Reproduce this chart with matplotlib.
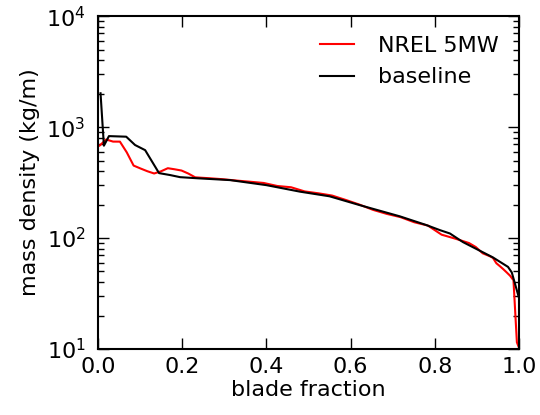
import matplotlib
matplotlib.use("Agg")
import matplotlib.pyplot as plt

# NREL 5MW reference blade mass density
nrel_frac = [0.0, 0.00325, 0.01951, 0.03577, 0.05203, 0.06829, 0.08455, 0.10081,
             0.11707, 0.13335, 0.14959, 0.16585, 0.18211, 0.19837, 0.21465, 0.23089,
             0.24715, 0.26341, 0.29595, 0.32846, 0.36098, 0.39350, 0.42602, 0.45855,
             0.49106, 0.52358, 0.55610, 0.58862, 0.62115, 0.65366, 0.68618, 0.71870,
             0.75122, 0.78374, 0.81626, 0.84878, 0.88130, 0.89756, 0.91382, 0.93008,
             0.93821, 0.94636, 0.95447, 0.96260, 0.97073, 0.97886, 0.98699, 0.99512,
             1.0]
nrel_mass = [678.9, 678.9, 773.4, 740.6, 740.0, 592.5, 450.3, 424.1,
             400.6, 382.1, 399.7, 426.3, 416.8, 406.2, 381.4, 352.8,
             349.5, 346.5, 339.3, 330.0, 322.0, 313.8, 294.7, 287.1,
             263.3, 253.2, 241.7, 220.6, 200.3, 179.4, 165.1, 154.4,
             138.9, 129.6, 107.3, 98.8, 90.2, 83.0, 72.9, 68.8,
             66.3, 59.3, 55.9, 52.5, 49.1, 45.8, 41.7, 11.5,
             10.3]

# baseline design
base_frac = [0.006, 0.014, 0.026, 0.067, 0.088, 0.112, 0.145, 0.171, 0.195, 0.236,
             0.314, 0.4, 0.48, 0.55, 0.622, 0.717, 0.78, 0.812, 0.836, 0.867,
             0.89, 0.938, 0.974, 0.983, 1.0]
base_mass = [2020, 680, 830, 820, 690, 620, 385, 370, 354, 346,
             333, 300, 262, 238, 198, 157, 131, 118, 110, 92,
             83, 67, 55, 49, 29]

fig = plt.figure(figsize=(5.4, 4.15), dpi=100)
ax = fig.add_axes([0.1815, 0.159, 0.7795, 0.802])

ax.semilogy(nrel_frac, nrel_mass, color='red', lw=1.5, label='NREL 5MW')
ax.semilogy(base_frac, base_mass, color='black', lw=1.5, label='baseline')

ax.set_xlim(0, 1)
ax.set_ylim(10, 1e4)
ax.set_xlabel('blade fraction', fontsize=16, labelpad=2)
ax.set_ylabel('mass density (kg/m)', fontsize=16, labelpad=4)
ax.tick_params(which='both', direction='in', top=True, right=True, labelsize=16)
ax.tick_params(which='major', length=8, width=1)
ax.tick_params(which='minor', length=4, width=1)
ax.tick_params(axis='x', pad=6)
ax.tick_params(axis='y', pad=9)
for s in ax.spines.values():
    s.set_linewidth(1.5)

ax.legend(loc='upper right', frameon=False, fontsize=16, handlelength=1.5,
          handletextpad=1.1, labelspacing=0.5)

fig.savefig('out.png', dpi=100)
